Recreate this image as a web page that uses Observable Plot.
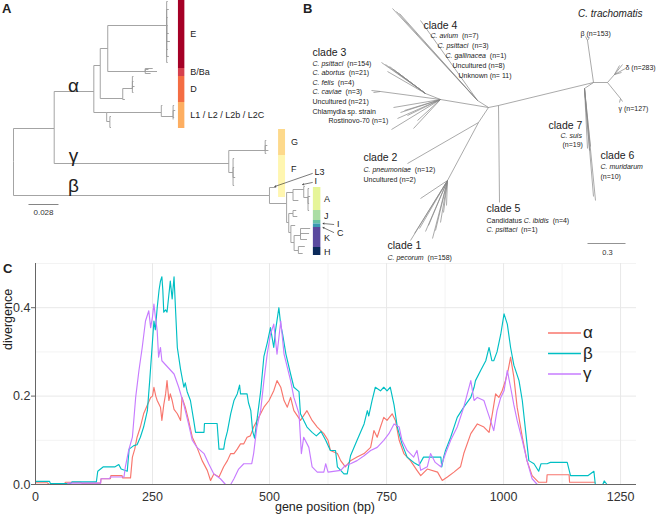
<!DOCTYPE html>
<html><head><meta charset="utf-8">
<script src="https://cdn.jsdelivr.net/npm/d3@7"></script>
<script src="https://cdn.jsdelivr.net/npm/@observablehq/plot@0.6"></script>
<style>
body{margin:0;background:#fff;}
#fig{position:relative;width:660px;height:514px;overflow:hidden;background:#fff;font-family:"Liberation Sans",Arial,Helvetica,sans-serif;color:#222;}
#fig svg{position:absolute;max-width:none;overflow:visible;}
.lbl{position:absolute;font-weight:bold;font-size:13px;line-height:1;}
</style></head><body><div id="fig"></div>
<script>
// ---------- Panel C data ----------
const seriesNames = ["α", "β", "γ"];
const seriesColors = ["#F8766D", "#00BFC4", "#C77CFF"];
const xTicks = [0, 250, 500, 750, 1000, 1250];
const xMinor = [125, 375, 625, 875, 1125];
const yTicks = [0, 0.2, 0.4];
const yMinor = [0.1, 0.3, 0.5];

const alphaDiv = [[0,0.004],[25,0.004],[30,0],[60,0],[64,0.005],[96,0.005],[100,0.003],[139,0.003],[140,0.013],[160,0.013],[161,0.02],[185,0.02],[186,0.015],[203,0.015],[207,0.062],[212,0.08],[217,0.107],[224,0.13],[231,0.16],[239,0.18],[246,0.197],[250,0.2],[253,0.22],[257,0.2],[260,0.19],[267,0.175],[270,0.145],[274,0.18],[278,0.205],[281,0.235],[285,0.19],[288,0.205],[292,0.19],[296,0.17],[303,0.16],[310,0.145],[313,0.197],[320,0.175],[327,0.145],[335,0.107],[345,0.084],[356,0.054],[367,0.032],[374,0.009],[381,0.024],[392,0.017],[402,0.04],[410,0.054],[417,0.07],[424,0.07],[431,0.08],[438,0.092],[445,0.092],[452,0.107],[459,0.11],[466,0.13],[477,0.152],[488,0.175],[499,0.19],[509,0.212],[516,0.235],[524,0.22],[531,0.19],[538,0.175],[545,0.197],[552,0.167],[566,0.145],[580,0.167],[591,0.145],[602,0.13],[616,0.115],[625,0.1],[630,0.077],[645,0.07],[652,0.054],[662,0.04],[673,0.054],[687,0.062],[702,0.07],[716,0.084],[723,0.122],[730,0.107],[737,0.13],[744,0.152],[751,0.145],[762,0.16],[769,0.145],[777,0.1],[787,0.07],[801,0.054],[815,0.032],[823,0.02],[837,0.035],[859,0.028],[869,0.009],[880,0.017],[894,0.028],[908,0.04],[915,0.07],[930,0.115],[944,0.137],[958,0.13],[969,0.118],[976,0.16],[983,0.205],[990,0.197],[997,0.212],[1004,0.235],[1010,0.26],[1015,0.288],[1022,0.243],[1029,0.175],[1040,0.107],[1050,0.054],[1061,0.02],[1075,0.005],[1092,0.005],[1093,0.022],[1140,0.022],[1141,0.005],[1195,0.005]];

const betaDiv = [[0,0.007],[30,0.007],[32,0.002],[75,0.002],[78,0.006],[130,0.006],[133,0.03],[145,0.04],[170,0.04],[178,0.045],[183,0.035],[196,0.03],[200,0.08],[210,0.088],[217,0.09],[224,0.107],[231,0.13],[239,0.167],[244,0.235],[249,0.31],[253,0.37],[256,0.35],[260,0.4],[264,0.44],[267,0.46],[270,0.47],[272,0.44],[274,0.39],[278,0.395],[281,0.39],[285,0.43],[288,0.46],[292,0.42],[296,0.47],[299,0.4],[303,0.31],[310,0.26],[317,0.22],[320,0.23],[324,0.21],[331,0.19],[338,0.145],[342,0.118],[360,0.118],[361,0.138],[388,0.138],[392,0.08],[402,0.08],[405,0.1],[410,0.12],[417,0.16],[424,0.19],[431,0.205],[436,0.225],[438,0.205],[452,0.205],[455,0.185],[460,0.167],[464,0.12],[468,0.105],[473,0.145],[481,0.21],[488,0.29],[495,0.32],[502,0.355],[509,0.31],[513,0.35],[520,0.4],[524,0.36],[528,0.34],[535,0.295],[545,0.25],[552,0.22],[563,0.21],[566,0.16],[580,0.13],[591,0.118],[600,0.11],[610,0.12],[620,0.1],[630,0.077],[641,0.077],[645,0.04],[659,0.024],[666,0.024],[673,0.065],[687,0.1],[702,0.137],[709,0.167],[712,0.155],[719,0.19],[726,0.22],[737,0.212],[744,0.22],[751,0.212],[758,0.22],[766,0.18],[773,0.13],[783,0.092],[794,0.062],[808,0.05],[819,0.043],[829,0.062],[866,0.062],[868,0.04],[872,0.062],[876,0.077],[887,0.107],[901,0.152],[915,0.175],[930,0.197],[937,0.22],[940,0.235],[951,0.258],[962,0.28],[969,0.31],[975,0.28],[979,0.28],[986,0.3],[994,0.34],[1001,0.386],[1008,0.363],[1015,0.31],[1022,0.27],[1033,0.235],[1040,0.19],[1047,0.122],[1054,0.054],[1065,0.047],[1075,0.03],[1080,0.047],[1093,0.047],[1100,0.05],[1136,0.05],[1143,0.02],[1180,0.02],[1193,0.03],[1196,0],[1212,0],[1215,0.008],[1221,0]];

const gammaDiv = [[0,0],[68,0],[70,0.003],[139,0.003],[140,0.013],[158,0.013],[160,0.017],[189,0.017],[192,0.04],[199,0.077],[207,0.107],[214,0.197],[221,0.258],[228,0.31],[235,0.37],[242,0.393],[246,0.355],[250,0.38],[253,0.408],[256,0.38],[260,0.348],[263,0.288],[267,0.31],[270,0.28],[296,0.25],[306,0.22],[317,0.18],[327,0.137],[335,0.1],[345,0.084],[360,0.07],[370,0.047],[381,0.024],[395,0.013],[406,0],[417,0],[424,0.013],[434,0.035],[445,0.047],[462,0.047],[466,0.07],[473,0.13],[481,0.167],[488,0.235],[495,0.295],[502,0.34],[509,0.363],[516,0.295],[524,0.37],[531,0.295],[538,0.265],[545,0.235],[552,0.197],[563,0.16],[568,0.07],[573,0.107],[584,0.084],[591,0.04],[602,0.028],[616,0.028],[620,0.047],[625,0.028],[652,0.032],[662,0.043],[673,0.047],[687,0.054],[702,0.065],[716,0.077],[730,0.084],[737,0.092],[744,0.1],[755,0.115],[766,0.137],[777,0.13],[783,0.1],[794,0.077],[808,0.062],[815,0.077],[823,0.032],[837,0.04],[844,0.07],[854,0.05],[866,0.04],[876,0.07],[887,0.1],[901,0.13],[915,0.175],[930,0.235],[937,0.19],[944,0.197],[958,0.19],[965,0.167],[972,0.145],[979,0.122],[986,0.167],[994,0.197],[1001,0.212],[1008,0.258],[1015,0.22],[1022,0.18],[1029,0.145],[1040,0.1],[1050,0.054],[1061,0.013],[1072,0],[1140,0]];

// ---------- Panel A data (rectangular tree: id, parent, branch length x1000, row) ----------
const treeA = [
["root",null,0,161],["n1","root",38,128],["al","n1",75,91],["a1","al",81,65],["a1a","a1",88,48],
["E","a1a",143,25],["e1","E",144,1],["e2","E",145,9],["e3","E",144,17],["e4","E",144,25],["e5","E",145,33],["e6","E",146,41],["e7","E",144,49],["e8","E",145,56],["e9","E",144,62],
["BB","a1a",123,71],["bb1","BB",130,68],["bb2","BB",134,71],["bb3","BB",128,73],["bb4","BB",126,69],
["D","a1",102,98],["d1","D",111,88],["dd1","d1",112,76],["dd2","d1",112,81],["dd3","d1",113,86],["dd4","d1",112,92],["d0","D",104,99],
["a2","al",87,112],["L","a2",138,112],["l1","L",139,105],["l2","L",149,116],["ll1","l2",150,105],["ll2","l2",151,110],["ll3","l2",150,117],["ll4","l2",149,119],
["a2b","a2",90,121],["x1","a2b",91,116],["x2","a2b",91,127],
["gm","n1",201,163],["G","gm",235,150],["g1","G",236,140],["g2","G",237,145],["g3","G",238,150],["g4","G",236,153],
["F","gm",205,172],["f1","F",206,158],["f2","F",206,167],["f3","F",207,177],["f4","F",206,185],
["bt","root",239,195],["L3","bt",245,187],["bA","bt",255,203],["An","bA",261,192],["an1","An",271,189],["an1a","an1",272,186],
["an11","an1",275,197],["a11","an11",276,188],["a12","an11",277,196],["a13","an11",276,203],["a14","an11",276,210],["an2","An",266,200],
["c1","bA",257,222],["c1a","c1",261,213],["c1a1","c1a",264,210],["c1a2","c1a",265,216],["c2","c1",259,232],["c2l","c2",263,225],
["c3","c2",262,242],["K","c3",268,235],["k1","K",277,228],["k2","K",276,233],["k3","K",274,239],["H","c3",266,250],["h1","H",272,246],["h2","H",270,253]
];
// genotype bars: label, group, row start, row end, label row, colour
const cladeBars = [
["E","α",0,68,34,"#a50026"],["B/Ba","α",68,76,72,"#d6404e"],["D","α",76,102,89,"#f46d43"],["L1 / L2 / L2b / L2C","α",102,128,115,"#fdae61"],
["G","γ",129,155,142,"#fdd98b"],["F","γ",155,197,169,"#fff6b0"],
["A","β",187,210,199,"#e6f598"],["J","β",210,220,216,"#abdda4"],["","β",220,223.5,null,"#66c2a5"],["","β",223.5,227,null,"#3b9ab2"],
["K","β",227,247,238,"#5a4a9f"],["H","β",247,255,252,"#0b2a5a"]
];
const barCols = {"α":[154,160,165],"γ":[247.5,254,259],"β":[280,287,290]};
const lineageLabels = [["α",56,85],["γ",56,155],["β",56,185]];
const pointers = [["L3",281,172,279,173,244,186],["I",281,181,279,182,270,184],["I",302,224,299,224,289,223],["C",302,233,299,232,289,227]];

// ---------- Panel B data (unrooted tree layout: id, parent, x, y) ----------
const treeB = [
["c0",null,488,107],["c1","c0",498,105],["tr","c1",593,82],["trb","tr",587,40],["b1","trb",585,36],["b2","trb",589,37],
["tr2","tr",607,82],["dl","tr2",614,74],["d1","dl",622,64],["d2","dl",625,68],["d3","dl",621,72],["d4","dl",619,65],
["gm","tr2",620,98],["g1","gm",622,101],["g2","gm",619,102],
["s7","tr",584,88],["s7a","s7",587,148],["s7b","s7",589,150],["s7c","s7",590,146],["s6","s7",595,200],["s6b","s7",593,196],
["cl5","c1",499,202],
["c4","c0",477,100],["c4a","c4",392,8],["c4b","c4",396,11],["c4c","c4",399,13],["c4d","c4",420,20],
["c3","c0",440,99],["c3u","c3",425,93],["u1","c3u",381,62],["u2","c3u",385,64],["u3","c3u",389,66],["u4","c3u",393,69],["u5","c3u",387,71],["u6","c3u",397,72],
["cv","c3",380,91],["cv1","cv",371,90],["cv2","cv",373,92],
["l1","c3",393,107],["l2","c3",400,112],["l3","c3",397,118],["l4","c3",407,115],["l5","c3",417,120],["l6","c3",413,128],["l7","c3",391,129],["l8","c3",404,110],
["c21","c0",478,122],["cl2","c21",407,163],["c1n","c21",447,180],
["p1","c1n",420,198],["p2","c1n",410,240],["p3","c1n",414,233],["p4","c1n",419,228],["p5","c1n",425,231],["p6","c1n",432,238],["p7","c1n",440,222],["p8","c1n",443,212],["p9","c1n",446,205],["p10","c1n",428,225],["p11","c1n",435,230]
];
// text, x, y, kind (h = clade heading, s = species)
const labelsB = [
["clade 4",423,25,"h"],["C. avium  (n=7)",430,35,"s"],["C. psittaci  (n=3)",437,45,"s"],["C. gallinacea  (n=1)",445,55,"s"],["Uncultured (n=8)",452,65,"s"],["Unknown (n= 11)",458,75,"s"],
["clade 3",312,52,"h"],["C. psittaci  (n=154)",312,63,"s"],["C. abortus  (n=21)",312,72,"s"],["C. felis  (n=4)",312,82,"s"],["C. caviae  (n=3)",312,91,"s"],["Uncultured (n=21)",312,101,"s"],["Chlamydia sp. strain",312,111,"s"],["Rostinovo-70 (n=1)",328,120,"s"],
["clade 2",363,157,"h"],["C. pneumoniae  (n=12)",363,169,"s"],["Uncultured (n=2)",363,179,"s"],
["clade 1",387,245,"h"],["C. pecorum  (n=158)",387,257,"s"],
["clade 5",486,208,"h"],["Candidatus C. ibidis  (n=4)",486,220,"s"],["C. psittaci  (n=1)",486,229,"s"],
["clade 7",548,125,"h"],["C. suis",560,135,"s"],["(n=19)",562,144,"s"],
["clade 6",600,155,"h"],["C. muridarum",600,166,"s"],["(n=10)",600,176,"s"],
["β (n=153)",580,33,"s"],["δ (n=283)",625,67,"s"],["γ (n=127)",618,108,"s"]
];
const italicNames = ["C. avium","C. psittaci","C. gallinacea","C. abortus","C. felis","C. caviae","C. pneumoniae","C. pecorum","C. ibidis","C. suis","C. muridarum"];

const FONT = '"Liberation Sans", Arial, Helvetica, sans-serif';
const fig = document.getElementById("fig");

function rectEdges(tree) {
  const byId = new Map(tree.map(d => [d[0], d]));
  return tree.filter(d => d[1]).flatMap(([id, p, x, y]) => {
    const P = byId.get(p);
    return [{x1: P[2], y1: P[3], x2: P[2], y2: y}, {x1: P[2], y1: y, x2: x, y2: y}];
  });
}
function straightEdges(tree) {
  const byId = new Map(tree.map(d => [d[0], d]));
  return tree.filter(d => d[1]).map(([id, p, x, y]) => {
    const P = byId.get(p);
    return {x1: P[2], y1: P[3], x2: x, y2: y};
  });
}
function italicize(svg) {
  svg.querySelectorAll("text").forEach(t => {
    const s = t.textContent;
    const m = italicNames.find(k => s.includes(k));
    if (!m) return;
    const i = s.indexOf(m);
    t.textContent = "";
    [s.slice(0, i), m, s.slice(i + m.length)].forEach((p, j) => {
      if (!p) return;
      const ts = document.createElementNS("http://www.w3.org/2000/svg", "tspan");
      ts.textContent = p;
      if (j === 1) ts.setAttribute("font-style", "italic");
      t.appendChild(ts);
    });
  });
}
function place(el, left, top) { el.style.left = left + "px"; el.style.top = top + "px"; fig.appendChild(el); }

// ---------- Panel A ----------
const barRows = cladeBars.map(([label, g, y1, y2, ly, color]) => ({label, x1: barCols[g][0], x2: barCols[g][1], lx: barCols[g][2], y1, y2, ly, color}));
const A = Plot.plot({
  width: 345, height: 262, margin: 0,
  style: {fontFamily: FONT, background: "transparent", color: "#222"},
  x: {domain: [0, 300], range: [13, 334.3], axis: null},
  y: {domain: [0, 262], range: [0, 262], axis: null},
  marks: [
    Plot.link(rectEdges(treeA), {x1: "x1", y1: "y1", x2: "x2", y2: "y2", stroke: "#9a9a9a", strokeWidth: 0.9}),
    Plot.rect(barRows, {x1: "x1", x2: "x2", y1: "y1", y2: "y2", fill: d => d.color}),
    Plot.text(barRows.filter(d => d.label), {x: "lx", y: "ly", text: "label", textAnchor: "start", fontSize: 9, fill: "#222"}),
    Plot.text(lineageLabels, {x: d => d[1], y: d => d[2], text: d => d[0], fontSize: 19, fill: "#222"}),
    Plot.arrow(pointers, {x1: d => d[3], y1: d => d[4], x2: d => d[5], y2: d => d[6], stroke: "#222", strokeWidth: 0.6, headLength: 3, inset: 0}),
    Plot.text(pointers, {x: d => d[1], y: d => d[2], text: d => d[0], textAnchor: "start", fontSize: 9, fill: "#222"}),
    Plot.link([[14, 42]], {x1: d => d[0], x2: d => d[1], y1: 204, y2: 204, stroke: "#666", strokeWidth: 0.8}),
    Plot.text(["0.028"], {x: 28, y: 212, fontSize: 8, fill: "#333"})
  ]
});
place(A, 0, 0);

// ---------- Panel B ----------
const B = Plot.plot({
  width: 360, height: 262, margin: 0,
  style: {fontFamily: FONT, background: "transparent", color: "#222"},
  x: {domain: [300, 660], range: [0, 360], axis: null},
  y: {domain: [0, 262], range: [0, 262], axis: null},
  marks: [
    Plot.link(straightEdges(treeB), {x1: "x1", y1: "y1", x2: "x2", y2: "y2", stroke: "#858585", strokeWidth: 0.7}),
    Plot.text(labelsB.filter(d => d[3] === "h"), {x: d => d[1], y: d => d[2], text: d => d[0], textAnchor: "start", fontSize: 10.5, fill: "#222"}),
    Plot.text(labelsB.filter(d => d[3] === "s"), {x: d => d[1], y: d => d[2], text: d => d[0], textAnchor: "start", fontSize: 7, fill: "#222"}),
    Plot.text(["C. trachomatis"], {x: 642, y: 13, textAnchor: "end", fontSize: 10, fontStyle: "italic", fill: "#222"}),
    Plot.link([[587, 625]], {x1: d => d[0], x2: d => d[1], y1: 243, y2: 243, stroke: "#777", strokeWidth: 0.8}),
    Plot.text(["0.3"], {x: 607, y: 252, fontSize: 7.5, fill: "#333"})
  ]
});
italicize(B);
place(B, 300, 0);

// ---------- Panel C ----------
const rowsC = [alphaDiv, betaDiv, gammaDiv].flatMap((arr, i) => arr.map(([x, y]) => ({x, y, s: seriesNames[i]})));
const C = Plot.plot({
  width: 660, height: 264, marginTop: 13, marginBottom: 30, marginLeft: 35, marginRight: 24,
  style: {fontFamily: FONT, fontSize: "12.5px", background: "transparent", color: "#333"},
  x: {domain: [0, 1284]},
  y: {domain: [0, 0.5]},
  color: {domain: seriesNames, range: seriesColors},
  marks: [
    Plot.ruleX(xMinor, {stroke: "#f3f3f3"}),
    Plot.ruleY(yMinor, {stroke: "#f3f3f3"}),
    Plot.ruleX(xTicks.slice(1), {stroke: "#e8e8e8"}),
    Plot.ruleY(yTicks.slice(1), {stroke: "#e8e8e8"}),
    Plot.line(rowsC, {x: "x", y: "y", z: "s", stroke: "s", strokeWidth: 1.15}),
    Plot.ruleX([0], {stroke: "#666", strokeWidth: 1}),
    Plot.ruleY([0], {stroke: "#666", strokeWidth: 1}),
    Plot.axisX({ticks: xTicks, tickFormat: "d", tickSize: 0, tickPadding: 8, label: null, fontSize: 12.5}),
    Plot.axisY({ticks: yTicks, tickFormat: ".1f", tickSize: 4, tickPadding: 1, label: null, fontSize: 12.5, stroke: "#666"}),
    Plot.text(["gene position (bp)"], {frameAnchor: "bottom", dx: -11, dy: 26, fontSize: 12.5, fill: "#222"}),
    Plot.text(["divergence"], {frameAnchor: "left", dx: -28, dy: -24, rotate: -90, fontSize: 12.5, fill: "#222"})
  ]
});
place(C, 0, 250);

// legend for C, drawn with d3 into its own small svg
const legSvg = d3.create("svg").attr("width", 60).attr("height", 70);
seriesNames.forEach((name, i) => {
  const y = 10 + 20.5 * i;
  legSvg.append("line").attr("x1", 0).attr("x2", 33).attr("y1", y).attr("y2", y)
    .attr("stroke", seriesColors[i]).attr("stroke-width", 1.3);
  legSvg.append("text").attr("x", 35).attr("y", y).attr("dy", "0.32em")
    .attr("font-family", FONT).attr("font-size", 17).attr("fill", "#222").text(name);
});
place(legSvg.node(), 548, 323);

// panel letters
[["A", 2, 2], ["B", 303, 2], ["C", 3, 262]].forEach(([s, x, y]) => {
  const d = document.createElement("div");
  d.className = "lbl"; d.textContent = s;
  place(d, x, y);
});
</script></body></html>
